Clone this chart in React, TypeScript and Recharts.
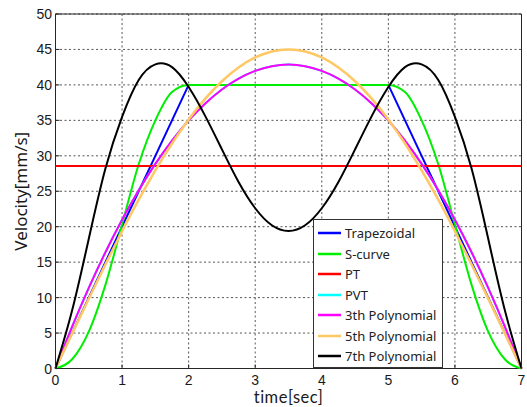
import React from 'react';
import { LineChart, Line, XAxis, YAxis, CartesianGrid, Legend, ReferenceArea } from 'recharts';

const time = [0, 0.25, 0.5, 0.75, 1, 1.25, 1.5, 1.75, 2, 2.25, 2.5, 2.75, 3, 3.25, 3.5, 3.75, 4, 4.25, 4.5, 4.75, 5, 5.25, 5.5, 5.75, 6, 6.25, 6.5, 6.75, 7];

const trapezoidal = [0, 5, 10, 15, 20, 25, 30, 35, 40, 40, 40, 40, 40, 40, 40, 40, 40, 40, 40, 40, 40, 35, 30, 25, 20, 15, 10, 5, 0];
const sCurve = [0, 1.3, 5.2, 11.8, 20.3, 28.8, 35.0, 39.0, 40, 40, 40, 40, 40, 40, 40, 40, 40, 40, 40, 40, 40, 39.0, 35.0, 28.8, 20.3, 11.8, 5.2, 1.3, 0];
const pt = [28.57, 28.57, 28.57, 28.57, 28.57, 28.57, 28.57, 28.57, 28.57, 28.57, 28.57, 28.57, 28.57, 28.57, 28.57, 28.57, 28.57, 28.57, 28.57, 28.57, 28.57, 28.57, 28.57, 28.57, 28.57, 28.57, 28.57, 28.57, 28.57];
const pvt = [0, 5.9, 11.37, 16.4, 20.99, 25.15, 28.86, 32.14, 34.99, 37.39, 39.36, 40.89, 41.98, 42.64, 42.86, 42.64, 41.98, 40.89, 39.36, 37.39, 34.99, 32.14, 28.86, 25.15, 20.99, 16.4, 11.37, 5.9, 0];
const poly3 = [0, 5.9, 11.37, 16.4, 20.99, 25.15, 28.86, 32.14, 34.99, 37.39, 39.36, 40.89, 41.98, 42.64, 42.86, 42.64, 41.98, 40.89, 39.36, 37.39, 34.99, 32.14, 28.86, 25.15, 20.99, 16.4, 11.37, 5.9, 0];
const poly5 = [0, 4.93, 9.85, 14.69, 19.36, 23.81, 27.95, 31.74, 35.13, 38.07, 40.52, 42.46, 43.87, 44.72, 45.0, 44.72, 43.87, 42.46, 40.52, 38.07, 35.13, 31.74, 27.95, 23.81, 19.36, 14.69, 9.85, 4.93, 0];
const poly7 = [0, 8.2, 18.3, 28.2, 35.5, 40.7, 42.9, 42.5, 39.7, 35.6, 30.9, 26.3, 22.6, 20.2, 19.4, 20.2, 22.6, 26.3, 30.9, 35.6, 39.7, 42.5, 42.9, 40.7, 35.5, 28.2, 18.3, 8.2, 0];

const seriesNames = ['Trapezoidal', 'S-curve', 'PT', 'PVT', '3th Polynomial', '5th Polynomial', '7th Polynomial'];
const xTicks = [0, 1, 2, 3, 4, 5, 6, 7];
const yTicks = [0, 5, 10, 15, 20, 25, 30, 35, 40, 45, 50];

const data = time.map((t, i) => ({
  t,
  trap: trapezoidal[i],
  scurve: sCurve[i],
  pt: pt[i],
  pvt: pvt[i],
  p3: poly3[i],
  p5: poly5[i],
  p7: poly7[i],
}));

const AX = '#262626';
const tickFont = { fontFamily: '"Liberation Sans", Arial, sans-serif', fontSize: 14, fill: '#1a1a1a' };
const titleFont = '"Noto Sans", sans-serif';

const BottomTick = (props: any) => {
  const { x, y, payload } = props;
  return (
    <g>
      <line x1={x} y1={y} x2={x} y2={y - 4} stroke={AX} strokeWidth={1} />
      <text x={x} y={y + 16} textAnchor="middle" {...tickFont}>{payload.value}</text>
    </g>
  );
};

const LeftTick = (props: any) => {
  const { x, y, payload } = props;
  return (
    <g>
      <line x1={x} y1={y} x2={x + 4} y2={y} stroke={AX} strokeWidth={1} />
      <text x={x - 3.5} y={y + 5} textAnchor="end" {...tickFont}>{payload.value}</text>
    </g>
  );
};

const TopTick = (props: any) => {
  const { x, y } = props;
  return <line x1={x} y1={y} x2={x} y2={y + 4} stroke={AX} strokeWidth={1} />;
};

const RightTick = (props: any) => {
  const { x, y } = props;
  return <line x1={x} y1={y} x2={x - 4} y2={y} stroke={AX} strokeWidth={1} />;
};

const XTitle = (props: any) => {
  const { viewBox } = props;
  const cx = viewBox.x + viewBox.width / 2;
  const by = viewBox.y + viewBox.height - 4;
  return (
    <text x={cx} y={by} textAnchor="middle" fontFamily="Lato, sans-serif" fontSize={16.5} letterSpacing={0.5} fill="#1a1a1a">
      time[sec]
    </text>
  );
};

const LegendBox = (props: any) => {
  const items = [...(props.payload || [])].sort(
    (a: any, b: any) => seriesNames.indexOf(a.value) - seriesNames.indexOf(b.value)
  );
  return (
    <div
      style={{
        border: '1px solid #333',
        background: '#fff',
        width: 128,
        paddingTop: 3,
        boxSizing: 'content-box',
        fontFamily: titleFont,
        fontSize: 13,
        color: '#222',
      }}
    >
      {items.map((p: any) => (
        <div key={p.value} style={{ display: 'flex', alignItems: 'center', height: 20.5 }}>
          <svg width={27} height={6} style={{ marginLeft: 4, display: 'block' }}>
            <line x1={0} y1={3} x2={23} y2={3} stroke={p.color} strokeWidth={2.5} />
          </svg>
          <span style={{ whiteSpace: 'nowrap', lineHeight: '20px' }}>{p.value}</span>
        </div>
      ))}
    </div>
  );
};

export default function App() {
  return (
    <div style={{ position: 'absolute', left: 0, top: 0, width: 527, height: 407, background: '#fff' }}>
      <LineChart width={527} height={407} data={data} margin={{ top: 14, right: 5.5, bottom: 0, left: 0 }}>
        <CartesianGrid stroke="#444" strokeDasharray="2 2.5" strokeWidth={0.9} horizontalValues={yTicks} verticalValues={xTicks} />
        <XAxis
          dataKey="t"
          type="number"
          domain={[0, 7]}
          ticks={xTicks}
          interval={0}
          height={38.5}
          axisLine={false}
          tickLine={false}
          tickSize={0}
          tickMargin={0}
          tick={<BottomTick />}
          label={<XTitle />}
        />
        <XAxis
          xAxisId="top"
          orientation="top"
          dataKey="t"
          type="number"
          domain={[0, 7]}
          ticks={xTicks}
          interval={0}
          height={0}
          axisLine={false}
          tickLine={false}
          tickSize={0}
          tickMargin={0}
          tick={<TopTick />}
        />
        <YAxis
          type="number"
          domain={[0, 50]}
          ticks={yTicks}
          interval={0}
          width={55.5}
          axisLine={false}
          tickLine={false}
          tickSize={0}
          tickMargin={0}
          tick={<LeftTick />}
          label={{ value: 'Velocity[mm/s]', angle: -90, position: 'insideLeft', offset: 21, textAnchor: 'middle', style: { fontFamily: titleFont, fontSize: 17, fill: '#1a1a1a', textAnchor: 'middle' } }}
        />
        <YAxis
          yAxisId="right"
          orientation="right"
          type="number"
          domain={[0, 50]}
          ticks={yTicks}
          interval={0}
          width={0}
          axisLine={false}
          tickLine={false}
          tickSize={0}
          tickMargin={0}
          tick={<RightTick />}
        />
        <Line type="linear" dataKey="trap" name={seriesNames[0]} stroke="#0000FF" strokeWidth={2} dot={false} isAnimationActive={false} />
        <Line type="monotone" dataKey="scurve" name={seriesNames[1]} stroke="#00EE00" strokeWidth={2} dot={false} isAnimationActive={false} />
        <Line type="linear" dataKey="pt" name={seriesNames[2]} stroke="#FF0000" strokeWidth={2} dot={false} isAnimationActive={false} />
        <Line type="natural" dataKey="pvt" name={seriesNames[3]} stroke="#00FFFF" strokeWidth={2} dot={false} isAnimationActive={false} />
        <Line type="natural" dataKey="p3" name={seriesNames[4]} stroke="#FF00FF" strokeWidth={2} dot={false} isAnimationActive={false} />
        <Line type="natural" dataKey="p5" name={seriesNames[5]} stroke="#FFC864" strokeWidth={2.5} dot={false} isAnimationActive={false} />
        <Line type="natural" dataKey="p7" name={seriesNames[6]} stroke="#000000" strokeWidth={2} dot={false} isAnimationActive={false} />
        <ReferenceArea x1={0} x2={7} y1={0} y2={50} fill="none" fillOpacity={0} stroke={AX} strokeWidth={1} ifOverflow="visible" />
        <Legend
          layout="vertical"
          align="center"
          verticalAlign="middle"
          content={<LegendBox />}
          wrapperStyle={{ position: 'absolute', left: 313, top: 219, width: 130, margin: 0 }}
        />
      </LineChart>
    </div>
  );
}
